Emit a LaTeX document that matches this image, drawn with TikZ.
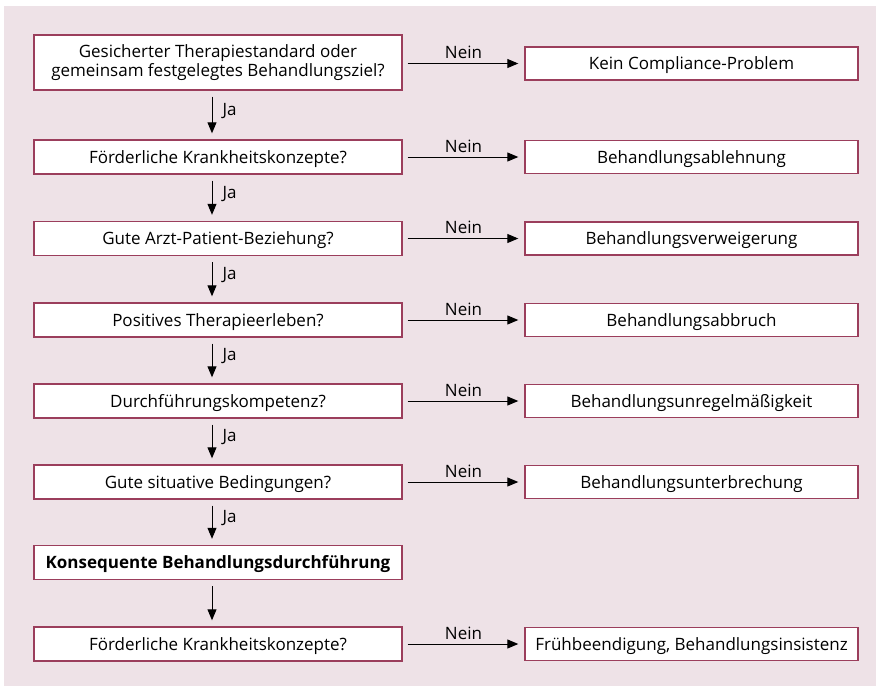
\documentclass[tikz,border=0pt]{standalone}
\usepackage{fontspec}
\setmainfont{Open Sans}
\usetikzlibrary{arrows.meta}
\definecolor{bgpink}{RGB}{238,226,231}
\definecolor{boxline}{RGB}{155,62,92}
\begin{document}
\begin{tikzpicture}[x=1pt,y=-1pt,
  qbox/.style={draw=boxline,line width=1.4pt,fill=white,minimum width=368pt,minimum height=34pt,inner sep=2pt,align=center,text height=12pt,text depth=0pt,font=\fontsize{17}{20}\selectfont},
  rbox/.style={draw=boxline,line width=1.4pt,fill=white,minimum width=333pt,minimum height=33pt,inner sep=2pt,align=center,text height=12pt,text depth=0pt,font=\fontsize{17}{20}\selectfont},
  flow/.style={line width=1pt,-{Triangle[length=11pt,width=9pt]}},
  lab/.style={font=\fontsize{17}{20}\selectfont,inner sep=1pt}]
\useasboundingbox (0,0) rectangle (876,686);
\fill[bgpink] (4,6) rectangle (876,686);
% left column
\node[qbox,minimum height=55pt,text height=,text depth=] (q1) at (218,62.5) {Gesicherter Therapiestandard oder\\[-1pt]gemeinsam festgelegtes Behandlungsziel?};
\node[qbox] (q2) at (218,157) {Förderliche Krankheitskonzepte?};
\node[qbox] (q3) at (218,238.5) {Gute Arzt-Patient-Beziehung?};
\node[qbox] (q4) at (218,320) {Positives Therapieerleben?};
\node[qbox] (q5) at (218,401) {Durchführungskompetenz?};
\node[qbox] (q6) at (218,482) {Gute situative Bedingungen?};
\node[qbox,font=\fontsize{17}{20}\selectfont\bfseries] (q7) at (218,562.5) {Konsequente Behandlungsdurchführung};
\node[qbox] (q8) at (218,644) {Förderliche Krankheitskonzepte?};
% right column
\node[rbox] (r1) at (691.5,63.5) {Kein Compliance-Problem};
\node[rbox] (r2) at (691.5,157) {Behandlungsablehnung};
\node[rbox] (r3) at (691.5,238.5) {Behandlungsverweigerung};
\node[rbox] (r4) at (691.5,320) {Behandlungsabbruch};
\node[rbox] (r5) at (691.5,401) {Behandlungsunregelmäßigkeit};
\node[rbox] (r6) at (691.5,482) {Behandlungsunterbrechung};
\node[rbox] (r8) at (691.5,644) {Frühbeendigung, Behandlungsinsistenz};
% vertical arrows
\foreach \a/\b in {q1/q2,q2/q3,q3/q4,q4/q5,q5/q6,q6/q7}{
  \draw[flow,shorten <=6pt,shorten >=6pt] ([xshift=-6pt]\a.south) -- node[lab,right=9pt,yshift=4pt]{Ja} ([xshift=-6pt]\b.north);
}
\draw[flow,shorten <=6pt,shorten >=6pt] ([xshift=-6pt]q7.south) -- ([xshift=-6pt]q8.north);
% horizontal arrows
\foreach \a/\b in {q1/r1,q2/r2,q3/r3,q4/r4,q5/r5,q6/r6,q8/r8}{
  \draw[flow,shorten <=5pt,shorten >=6pt] (\a.east |- \b.west) -- node[lab,above=3pt]{Nein} (\b.west);
}
\end{tikzpicture}
\end{document}
